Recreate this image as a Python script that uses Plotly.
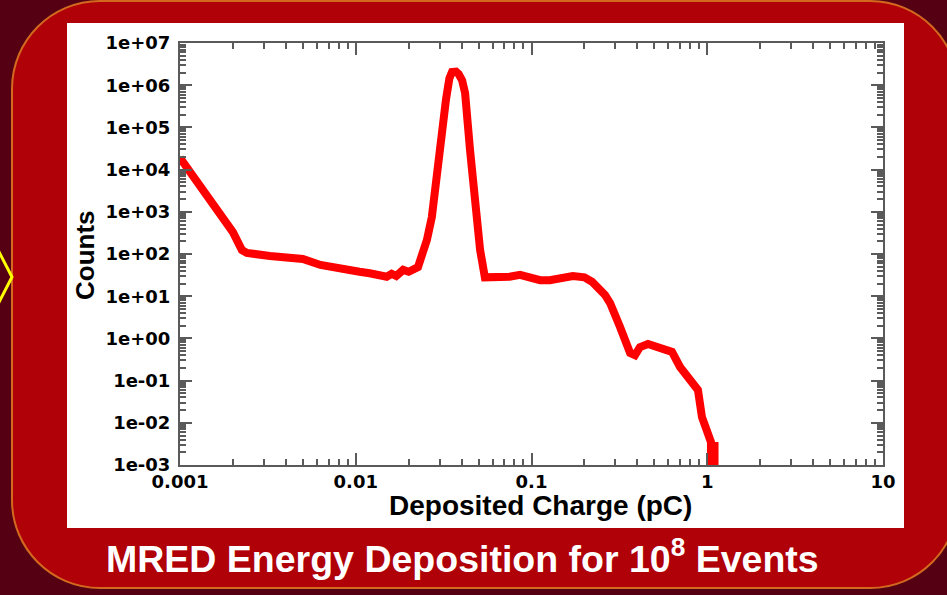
import plotly.graph_objects as go

W, H = 947, 595

# ---- data ----
charge_pC = [0.001, 0.00122, 0.00145, 0.00169, 0.00200, 0.00225, 0.0024, 0.00325, 0.0050, 0.0063,
             0.0085, 0.0105, 0.012, 0.0135, 0.015, 0.016, 0.017, 0.0186, 0.020, 0.0226,
             0.0254, 0.0271, 0.029, 0.031, 0.0326, 0.0341, 0.0353, 0.0372, 0.0385, 0.0403,
             0.0419, 0.0447, 0.0477, 0.051, 0.0543, 0.0662, 0.075, 0.086, 0.098, 0.112,
             0.127, 0.150, 0.172, 0.200, 0.221, 0.262, 0.28, 0.319, 0.364, 0.388,
             0.414, 0.46, 0.538, 0.63, 0.70, 0.82, 0.885, 0.933, 1.0, 1.04,
             1.05, 1.05, 1.10, 1.10]
counts = [1.9e4, 5.7e3, 2.4e3, 940, 330, 124, 106, 90, 76, 55,
          42, 38, 35, 31, 29, 34, 30, 42, 38, 49,
          215, 750, 1.15e4, 1.27e5, 4.5e5, 1.45e6, 2.05e6, 2.1e6, 1.84e6, 1.3e6,
          6.5e5, 2.9e4, 1.9e3, 124, 28, 27, 29, 32, 27.5, 24,
          24, 27, 30, 28, 22, 10.7, 6.9, 1.86, 0.45, 0.40,
          0.62, 0.74, 0.62, 0.48, 0.21, 0.10, 0.06, 0.0137, 0.0067, 0.0045,
          0.0035, 0.0004, 0.0004, 0.0035]

x_tickvals = [0.001, 0.01, 0.1, 1, 10]
x_ticktext = ["0.001", "0.01", "0.1", "1", "10"]
y_tickvals = [1e-3, 1e-2, 1e-1, 1e0, 1e1, 1e2, 1e3, 1e4, 1e5, 1e6, 1e7]
y_ticktext = ["1e-03", "1e-02", "1e-01", "1e+00", "1e+01", "1e+02",
              "1e+03", "1e+04", "1e+05", "1e+06", "1e+07"]

x_title = "Deposited Charge (pC)"
y_title = "Counts"
caption = "MRED Energy Deposition for 10<sup>8</sup> Events"

# ---- helpers for layout positions (pixels -> paper) ----
def px(x):
    return x / W

def py(y):
    return 1 - y / H

def rounded_rect(x0, y0, x1, y1, r):
    k = 0.5523 * r
    def p(x, y):
        return f"{px(x):.5f},{py(y):.5f}"
    return (f"M{p(x0 + r, y0)} L{p(x1 - r, y0)} "
            f"C{p(x1 - r + k, y0)} {p(x1, y0 + r - k)} {p(x1, y0 + r)} "
            f"L{p(x1, y1 - r)} "
            f"C{p(x1, y1 - r + k)} {p(x1 - r + k, y1)} {p(x1 - r, y1)} "
            f"L{p(x0 + r, y1)} "
            f"C{p(x0 + r - k, y1)} {p(x0, y1 - r + k)} {p(x0, y1 - r)} "
            f"L{p(x0, y0 + r)} "
            f"C{p(x0, y0 + r - k)} {p(x0 + r - k, y0)} {p(x0 + r, y0)} Z")

fig = go.Figure()
fig.add_trace(go.Scatter(
    x=charge_pC, y=counts, mode="lines",
    line=dict(color="#ff0000", width=8),
    hoverinfo="skip", showlegend=False,
))

axis_color = "#5a5a5a"
tickfont = dict(family="DejaVu Sans", size=18, color="black", weight="bold")

common = dict(
    type="log", showline=True, linecolor=axis_color, linewidth=2,
    mirror="ticks", ticks="inside", ticklen=12, tickwidth=2, tickcolor=axis_color,
    showgrid=False, zeroline=False, tickfont=tickfont, automargin=False,
    minor=dict(ticks="inside", ticklen=6, tickwidth=1.5, tickcolor=axis_color,
               dtick="D1", showgrid=False),
)

fig.update_layout(
    width=W, height=H,
    margin=dict(l=0, r=0, t=0, b=0, pad=0, autoexpand=False),
    paper_bgcolor="#560014",
    plot_bgcolor="rgba(0,0,0,0)",
    xaxis=dict(range=[-3, 1], domain=[px(180), px(883)],
               tickvals=x_tickvals, ticktext=x_ticktext,
               ticklabelstandoff=-1, **common),
    yaxis=dict(range=[-3, 7], domain=[py(465), py(43)],
               tickvals=y_tickvals, ticktext=y_ticktext,
               ticklabelstandoff=4, **common),
    shapes=[
        dict(type="path", xref="paper", yref="paper", layer="below",
             path=rounded_rect(12, 1, 958, 588, 88),
             fillcolor="#b00008", line=dict(color="#d2691e", width=2)),
        dict(type="rect", xref="paper", yref="paper", layer="below",
             x0=px(67), x1=px(904), y0=py(528), y1=py(23),
             fillcolor="white", line=dict(width=0)),
        dict(type="path", xref="paper", yref="paper", layer="below",
             path=f"M{px(-2):.5f},{py(250):.5f} L{px(12):.5f},{py(277):.5f} L{px(-2):.5f},{py(304):.5f}",
             line=dict(color="#ffff00", width=3)),
    ],
    annotations=[
        dict(text=y_title, xref="paper", yref="paper", x=px(85), y=py(255),
             xanchor="center", yanchor="middle", textangle=-90, showarrow=False,
             font=dict(family="Liberation Sans", size=26, color="black", weight="bold")),
        dict(text=x_title, xref="paper", yref="paper", x=px(540), y=py(505),
             xanchor="center", yanchor="middle", showarrow=False,
             font=dict(family="Liberation Sans", size=28, color="black", weight="bold")),
        dict(text=caption, xref="paper", yref="paper", x=px(462), y=py(556),
             xanchor="center", yanchor="middle", showarrow=False,
             font=dict(family="Liberation Sans", size=37.5, color="white", weight="bold")),
    ],
)

fig.write_html("out.html")
